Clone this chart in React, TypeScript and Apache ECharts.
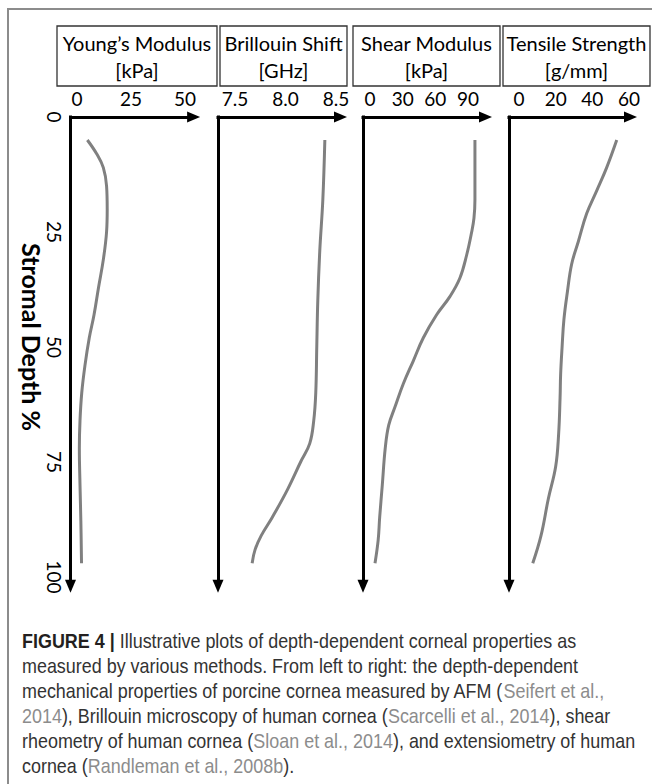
import React, { useEffect, useRef } from 'react';
import * as echarts from 'echarts';

// ---- data ----
const depthTicks = [0, 25, 50, 75, 100];

const youngDepth = [5, 8, 11, 15, 20, 25, 31, 37, 43, 48, 54, 60, 66, 72, 80, 88, 97];
const youngModulus = [4.8, 9.1, 12.2, 13.7, 14.0, 13.7, 12.2, 10.0, 7.9, 5.7, 3.7, 2.2, 1.4, 1.1, 1.4, 1.8, 2.1];
const youngTicks = [0, 25, 50];

const brillouinDepth = [5, 18, 29, 40, 50, 60, 66, 71, 75, 81, 87, 91, 94, 97];
const brillouinShift = [8.39, 8.37, 8.34, 8.32, 8.31, 8.3, 8.28, 8.24, 8.15, 8.02, 7.87, 7.76, 7.7, 7.67];
const brillouinTicks = [7.5, 8.0, 8.5];

const shearDepth = [5, 18, 22, 25, 30, 35, 39, 43, 48, 53, 58, 63, 67, 72, 80, 87, 92, 97];
const shearModulus = [96.4, 96.4, 95.5, 93.4, 88.8, 82.6, 73.5, 61.2, 49.0, 39.8, 30.6, 23.0, 17.2, 14.0, 11.3, 8.9, 7.5, 4.6];
const shearTicks = [0, 30, 60, 90];

const tensileDepth = [5, 11, 16, 21, 27, 32, 38, 44, 50, 56, 61, 69, 76, 83, 91, 97];
const tensileStrength = [53.3, 47.8, 42.4, 36.9, 32.4, 28.7, 26.4, 24.5, 23.5, 22.7, 22.4, 21.6, 20.0, 16.0, 12.0, 7.5];
const tensileTicks = [0, 20, 40, 60];

const panelTitles = [
  'Young\u2019s Modulus\n[kPa]',
  'Brillouin Shift\n[GHz]',
  'Shear Modulus\n[kPa]',
  'Tensile Strength\n[g/mm]',
];
const depthTitle = 'Stromal Depth %';

const captionLines: [string, string][][] = [
  [['b', 'FIGURE 4 |'], ['n', ' Illustrative plots of depth-dependent corneal properties as']],
  [['n', 'measured by various methods. From left to right: the depth-dependent']],
  [['n', 'mechanical properties of porcine cornea measured by AFM ('], ['g', 'Seifert et al.,']],
  [['g', '2014'], ['n', '), Brillouin microscopy of human cornea ('], ['g', 'Scarcelli et al., 2014'], ['n', '), shear']],
  [['n', 'rheometry of human cornea ('], ['g', 'Sloan et al., 2014'], ['n', '), and extensiometry of human']],
  [['n', 'cornea ('], ['g', 'Randleman et al., 2008b'], ['n', ').']],
];

// ---- layout ----
const FONT = 'Lato';
const CAP_FONT = '"Liberation Sans", Arial, sans-serif';
const GRID_TOP = 117;
const PX_PER_DEPTH = 4.6;
const DEPTH_MAX = 102;

const panels = [
  { depth: youngDepth, values: youngModulus, ticks: youngTicks, min: -3, max: 54, left: 70.5, width: 123.1, dec: 0, box: [57, 160] },
  { depth: brillouinDepth, values: brillouinShift, ticks: brillouinTicks, min: 7.332, max: 8.545, left: 218, width: 122.5, dec: 1, box: [220, 127] },
  { depth: shearDepth, values: shearModulus, ticks: shearTicks, min: -6.43, max: 106.1, left: 363, width: 122.5, dec: 0, box: [353, 147] },
  { depth: tensileDepth, values: tensileStrength, ticks: tensileTicks, min: -5.45, max: 60.8, left: 509, width: 121.5, dec: 0, box: [503, 147] },
];

function measure(segs: [string, string][]): number {
  const c = document.createElement('canvas').getContext('2d');
  if (!c) return 1;
  let w = 0;
  for (const [k, t] of segs) {
    c.font = `${k === 'b' ? 'bold ' : ''}20px ${CAP_FONT}`;
    w += c.measureText(t).width;
  }
  return w;
}

export default function App() {
  const ref = useRef<HTMLDivElement>(null);
  useEffect(() => {
    if (!ref.current) return;
    const chart = echarts.init(ref.current, undefined, { renderer: 'svg' });
    const axisLineStyle = { color: '#000', width: 3, cap: 'square' };
    const scaleX = 613 / measure(captionLines[4]);

    const graphic: any[] = [
      {
        type: 'rect',
        shape: { x: 8, y: 9, width: 720, height: 820 },
        style: { fill: 'transparent', stroke: '#8c8c8c', lineWidth: 2 },
        silent: true,
      },
      {
        type: 'text',
        x: 32,
        y: 337,
        rotation: -Math.PI / 2,
        style: {
          text: depthTitle,
          fontFamily: FONT,
          fontWeight: 'bold',
          fontSize: 25,
          fill: '#000',
          align: 'center',
          verticalAlign: 'middle',
        },
      },
    ];
    panels.forEach((p, i) => {
      graphic.push({
        type: 'rect',
        shape: { x: p.box[0], y: 26, width: p.box[1], height: 60 },
        style: { fill: 'transparent', stroke: '#333', lineWidth: 1.3 },
      });
      graphic.push({
        type: 'text',
        x: p.box[0] + p.box[1] / 2,
        y: 56.5,
        style: {
          text: panelTitles[i],
          fontFamily: FONT,
          fontSize: 20,
          lineHeight: 27,
          fill: '#000',
          align: 'center',
          verticalAlign: 'middle',
        },
      });
    });
    captionLines.forEach((segs, i) => {
      graphic.push({
        type: 'text',
        x: 22,
        y: 641 + i * 25,
        scaleX,
        style: {
          text: segs.map(([k, t]) => `{${k}|${t}}`).join(''),
          fontFamily: CAP_FONT,
          fontSize: 20,
          fill: '#333',
          align: 'left',
          verticalAlign: 'middle',
          rich: {
            b: { fontFamily: CAP_FONT, fontSize: 20, fontWeight: 'bold', fill: '#231f20', color: '#231f20' },
            n: { fontFamily: CAP_FONT, fontSize: 20, fill: '#333', color: '#333' },
            g: { fontFamily: CAP_FONT, fontSize: 20, fill: '#8c8c8c', color: '#8c8c8c' },
          },
        },
      });
    });

    const option: any = {
      animation: false,
      backgroundColor: '#fff',
      grid: panels.map((p) => ({
        left: p.left,
        top: GRID_TOP,
        width: p.width,
        height: DEPTH_MAX * PX_PER_DEPTH,
      })),
      xAxis: panels.map((p, i) => ({
        type: 'value',
        gridIndex: i,
        position: 'top',
        min: p.min,
        max: p.max,
        axisLine: {
          show: true,
          onZero: false,
          lineStyle: axisLineStyle,
          symbol: ['none', 'triangle'],
          symbolSize: [11, 13],
        },
        axisTick: { show: false },
        splitLine: { show: false },
        axisLabel: {
          customValues: p.ticks,
          formatter: (v: number) => v.toFixed(p.dec),
          margin: 9,
          color: '#000',
          fontFamily: FONT,
          fontSize: 19,
        },
      })),
      yAxis: panels.map((p, i) => ({
        type: 'value',
        gridIndex: i,
        inverse: true,
        min: 0,
        max: DEPTH_MAX,
        axisLine: {
          show: true,
          onZero: false,
          lineStyle: axisLineStyle,
          symbol: ['triangle', 'none'],
          symbolSize: [11, 13],
        },
        axisTick: { show: false },
        splitLine: { show: false },
        axisLabel:
          i === 0
            ? {
                customValues: depthTicks,
                rotate: -90,
                margin: 7,
                color: '#000',
                fontFamily: FONT,
                fontSize: 19,
              }
            : { show: false },
      })),
      series: panels.map((p, i) => ({
        type: 'line',
        xAxisIndex: i,
        yAxisIndex: i,
        data: p.values.map((v, j) => [v, p.depth[j]]),
        smooth: 0.4,
        showSymbol: false,
        symbol: 'none',
        lineStyle: { color: '#808080', width: 3 },
      })),
      graphic,
    };
    chart.setOption(option);
    return () => chart.dispose();
  }, []);
  return (
    <div
      ref={ref}
      style={{ position: 'absolute', left: 0, top: 0, width: 652, height: 784 }}
    />
  );
}
